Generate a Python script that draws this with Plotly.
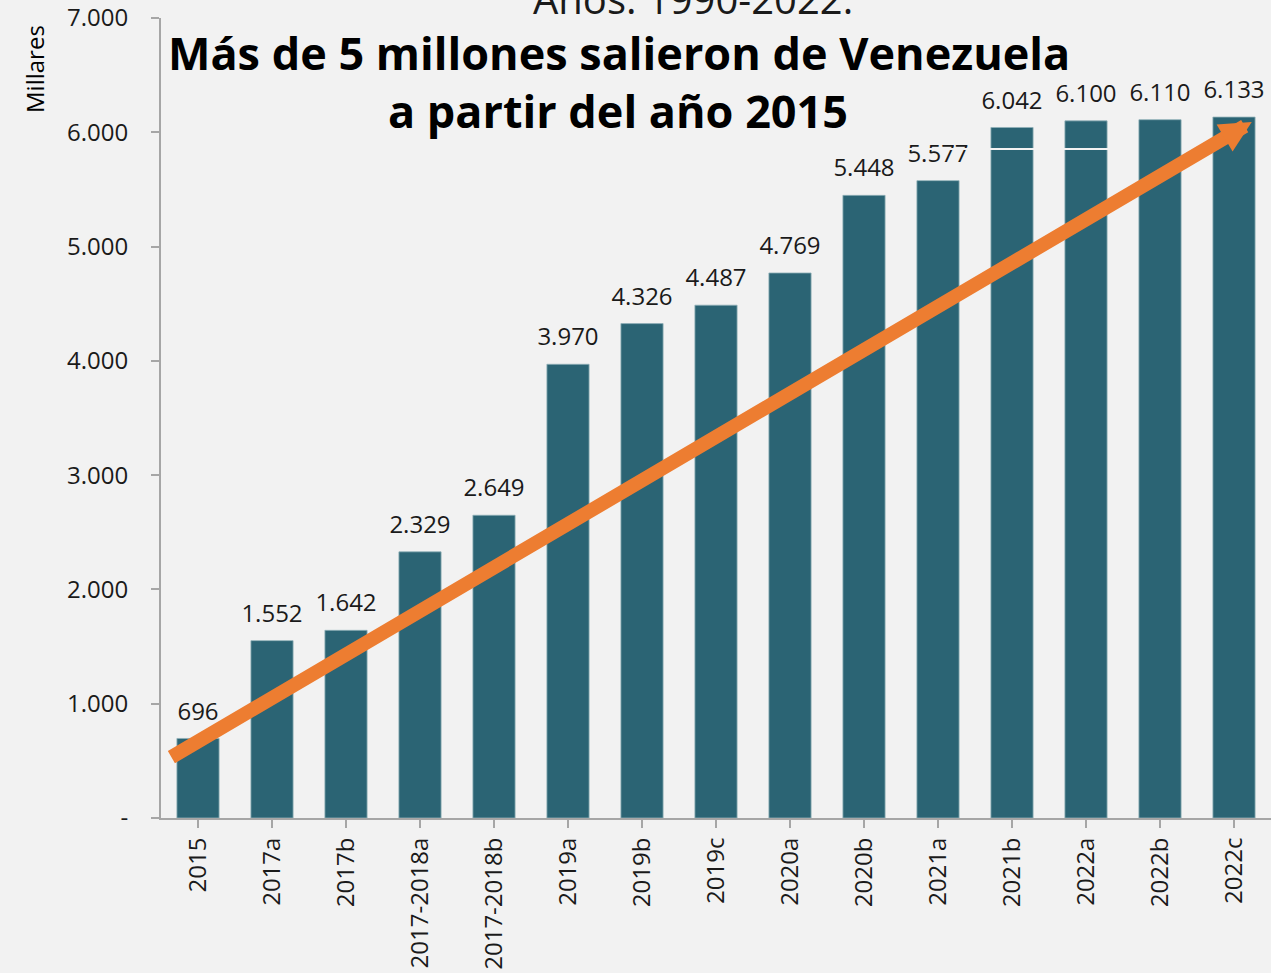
import plotly.graph_objects as go

categories = ["2015", "2017a", "2017b", "2017-2018a", "2017-2018b", "2019a", "2019b",
              "2019c", "2020a", "2020b", "2021a", "2021b", "2022a", "2022b", "2022c"]
migrants_thousands = [696, 1552, 1642, 2329, 2649, 3970, 4326, 4487, 4769, 5448,
                      5577, 6042, 6100, 6110, 6133]
y_tick_values = [0, 1000, 2000, 3000, 4000, 5000, 6000, 7000]
y_tick_labels = ["-", "1.000", "2.000", "3.000", "4.000", "5.000", "6.000", "7.000"]
title_line1 = "Más de 5 millones salieron de Venezuela"
title_line2 = "a partir del año 2015"
subtitle = "Años. 1990-2022."
# trend arrow, in data units (category index, thousands)
arrow_start = (-0.38, 525)
arrow_end = (14.24, 6090)
band_value = 5853

BG = "#f2f2f2"
BAR = "#2b6474"
ORANGE = "#ed7d31"
AXIS = "#a6a6a6"
TXT = "#1a1a1a"
FONT = "Open Sans"

xs = list(range(len(categories)))
labels = [f"{v:,}".replace(",", ".") for v in migrants_thousands]

fig = go.Figure()
fig.add_trace(go.Bar(
    x=xs,
    y=migrants_thousands,
    marker=dict(color=BAR, line=dict(color="#8fb0b8", width=0.8)),
    hoverinfo="skip",
))
fig.add_trace(go.Scatter(
    x=xs, y=migrants_thousands, mode="markers+text",
    marker=dict(size=19, color="rgba(0,0,0,0)"),
    text=labels, textposition="top center",
    textfont=dict(size=24, color=TXT, family=FONT),
    cliponaxis=False, hoverinfo="skip",
))

fig.add_shape(type="line", xref="x", yref="y", x0=-0.62, x1=12.5, y0=band_value, y1=band_value,
              line=dict(color=BG, width=2), layer="above")

fig.add_annotation(x=arrow_end[0], y=arrow_end[1], ax=arrow_start[0], ay=arrow_start[1],
                   xref="x", yref="y", axref="x", ayref="y", text="",
                   showarrow=True, arrowhead=2, arrowsize=0.45, arrowwidth=14,
                   arrowcolor=ORANGE)

fig.add_annotation(text=title_line1, xref="paper", yref="paper", x=(619 - 161) / 1110,
                   y=(818 - 53) / 800, xanchor="center", yanchor="middle", showarrow=False,
                   font=dict(size=45, color="#000", family=FONT, weight="bold"))
fig.add_annotation(text=title_line2, xref="paper", yref="paper", x=(618 - 161) / 1110,
                   y=(818 - 110) / 800, xanchor="center", yanchor="middle", showarrow=False,
                   font=dict(size=45, color="#000", family=FONT, weight="bold"))
fig.add_annotation(text=subtitle, xref="paper", yref="paper", x=(693 - 161) / 1110,
                   y=1 - 10 / 800, xanchor="center", yanchor="bottom", showarrow=False,
                   font=dict(size=40, color=TXT, family=FONT))
fig.add_annotation(text="Millares", xref="paper", yref="paper", x=(35 - 161) / 1110,
                   y=(818 - 69) / 800, xanchor="center", yanchor="middle", showarrow=False,
                   textangle=-90, font=dict(size=24, color="#000", family=FONT))

fig.update_layout(
    width=1271, height=973,
    paper_bgcolor=BG, plot_bgcolor=BG,
    margin=dict(l=161, r=0, t=18, b=155),
    bargap=0.43,
    showlegend=False,
    font=dict(family=FONT, color=TXT),
)
fig.update_xaxes(
    tickmode="array", tickvals=xs, ticktext=categories,
    range=[-0.5, len(categories) - 0.5],
    tickangle=-90, tickfont=dict(size=24, color=TXT, family=FONT),
    showline=True, linecolor=AXIS, linewidth=2,
    ticks="outside", ticklen=8, tickcolor=AXIS, tickwidth=2,
    showgrid=False, zeroline=False,
)
fig.update_yaxes(
    range=[0, 7000], tickmode="array", tickvals=y_tick_values, ticktext=y_tick_labels,
    tickfont=dict(size=24, color=TXT, family=FONT),
    showline=True, linecolor=AXIS, linewidth=2,
    ticks="outside", ticklen=8, tickcolor=AXIS, tickwidth=2,
    ticklabelstandoff=18,
    showgrid=False, zeroline=False,
)

fig.write_html("out.html", config={"displayModeBar": False},
               post_script="document.body.style.margin='0';document.body.style.overflow='hidden';")
